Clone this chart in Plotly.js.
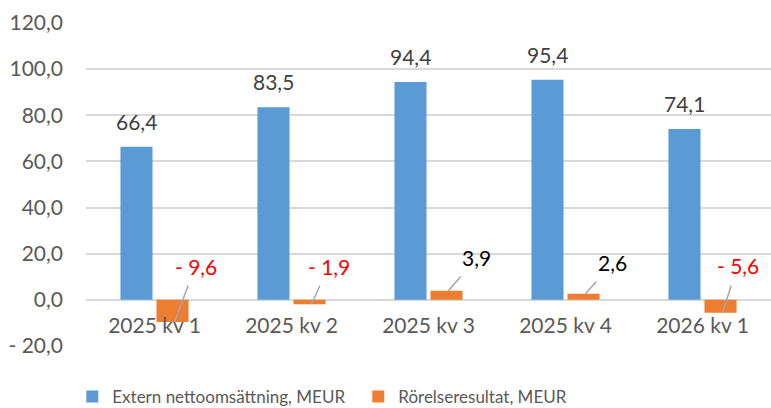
<!DOCTYPE html>
<html>
<head>
<meta charset="utf-8">
<script src="https://cdn.plot.ly/plotly-3.0.1.min.js"></script>
<style>html,body{margin:0;padding:0;background:#fff;}#chart{width:771px;height:408px;}</style>
</head>
<body>
<div id="chart"></div>
<script>
// ---- data ----
const categories = ["2025 kv 1", "2025 kv 2", "2025 kv 3", "2025 kv 4", "2026 kv 1"];
const nettoomsattning = [66.4, 83.5, 94.4, 95.4, 74.1];
const rorelseresultat = [-9.6, -1.9, 3.9, 2.6, -5.6];
const seriesNames = ["Extern nettoomsättning, MEUR", "Rörelseresultat, MEUR"];
const yTickValues = [-20, 0, 20, 40, 60, 80, 100, 120];
const yTickLabels = ["- 20,0", "0,0", "20,0", "40,0", "60,0", "80,0", "100,0", "120,0"];

// ---- label placement (pixel offsets of leader-line labels) ----
const leaderOffsets = [[21, -56], [17, -38], [28, -33], [27, -31], [15, -47]];

const FONT = "Lato, 'Open Sans', sans-serif";
const GREY = "#595959";
const fmt = v => (v < 0 ? "- " : "") + Math.abs(v).toFixed(1).replace(".", ",");

const yRange = [-20, 120];
const barShift = 20;

const annotations = [];
categories.forEach((c, i) => {
  annotations.push({
    x: c, y: nettoomsattning[i], xref: "x", yref: "y",
    text: fmt(nettoomsattning[i]), showarrow: false,
    xanchor: "center", yanchor: "bottom", xshift: -barShift + 2, yshift: 11,
    font: {family: FONT, size: 21, color: "#404040"}
  });
  const v = rorelseresultat[i];
  annotations.push({
    x: c, y: v, xref: "x", yref: "y",
    text: fmt(v), showarrow: true, arrowhead: 0, arrowwidth: 1.5, arrowcolor: "#A6A6A6",
    ax: leaderOffsets[i][0], ay: leaderOffsets[i][1], xshift: barShift, startstandoff: 6,
    font: {family: FONT, size: 21, color: v < 0 ? "#FF0000" : "#000000"}
  });
});

const data = [
  {type: "bar", name: seriesNames[0], x: categories, y: nettoomsattning,
   marker: {color: "#5B9BD5"}, hoverinfo: "x+y"},
  {type: "bar", name: seriesNames[1], x: categories, y: rorelseresultat,
   marker: {color: "#ED7D31"}, hoverinfo: "x+y"}
];

const layout = {
  width: 771, height: 408,
  margin: {l: 86, r: 0, t: 23, b: 62, autoexpand: false},
  paper_bgcolor: "#ffffff", plot_bgcolor: "#ffffff",
  font: {family: FONT, size: 21, color: GREY},
  barmode: "group", bargap: 0.474, bargroupgap: 0.11,
  showlegend: true,
  legend: {orientation: "h", x: -0.02, xanchor: "left", y: -0.158, yanchor: "middle",
           entrywidth: 241, entrywidthmode: "pixels",
           font: {family: FONT, size: 17, color: GREY}, traceorder: "normal"},
  xaxis: {type: "category", anchor: "free", position: (0 - yRange[0]) / (yRange[1] - yRange[0]),
          showgrid: false, showline: false, zeroline: false, ticks: "",
          ticklabelstandoff: 11,
          tickfont: {family: FONT, size: 21, color: GREY}},
  yaxis: {range: yRange, tickvals: yTickValues, ticktext: yTickLabels,
          showgrid: true, gridcolor: "#D9D9D9", gridwidth: 2,
          zeroline: true, zerolinecolor: "#D9D9D9", zerolinewidth: 2,
          showline: false, ticks: "", ticklabelstandoff: 22,
          tickfont: {family: FONT, size: 21, color: GREY}},
  annotations: annotations
};

Plotly.newPlot("chart", data, layout, {displayModeBar: false, staticPlot: true});
</script>
</body>
</html>
